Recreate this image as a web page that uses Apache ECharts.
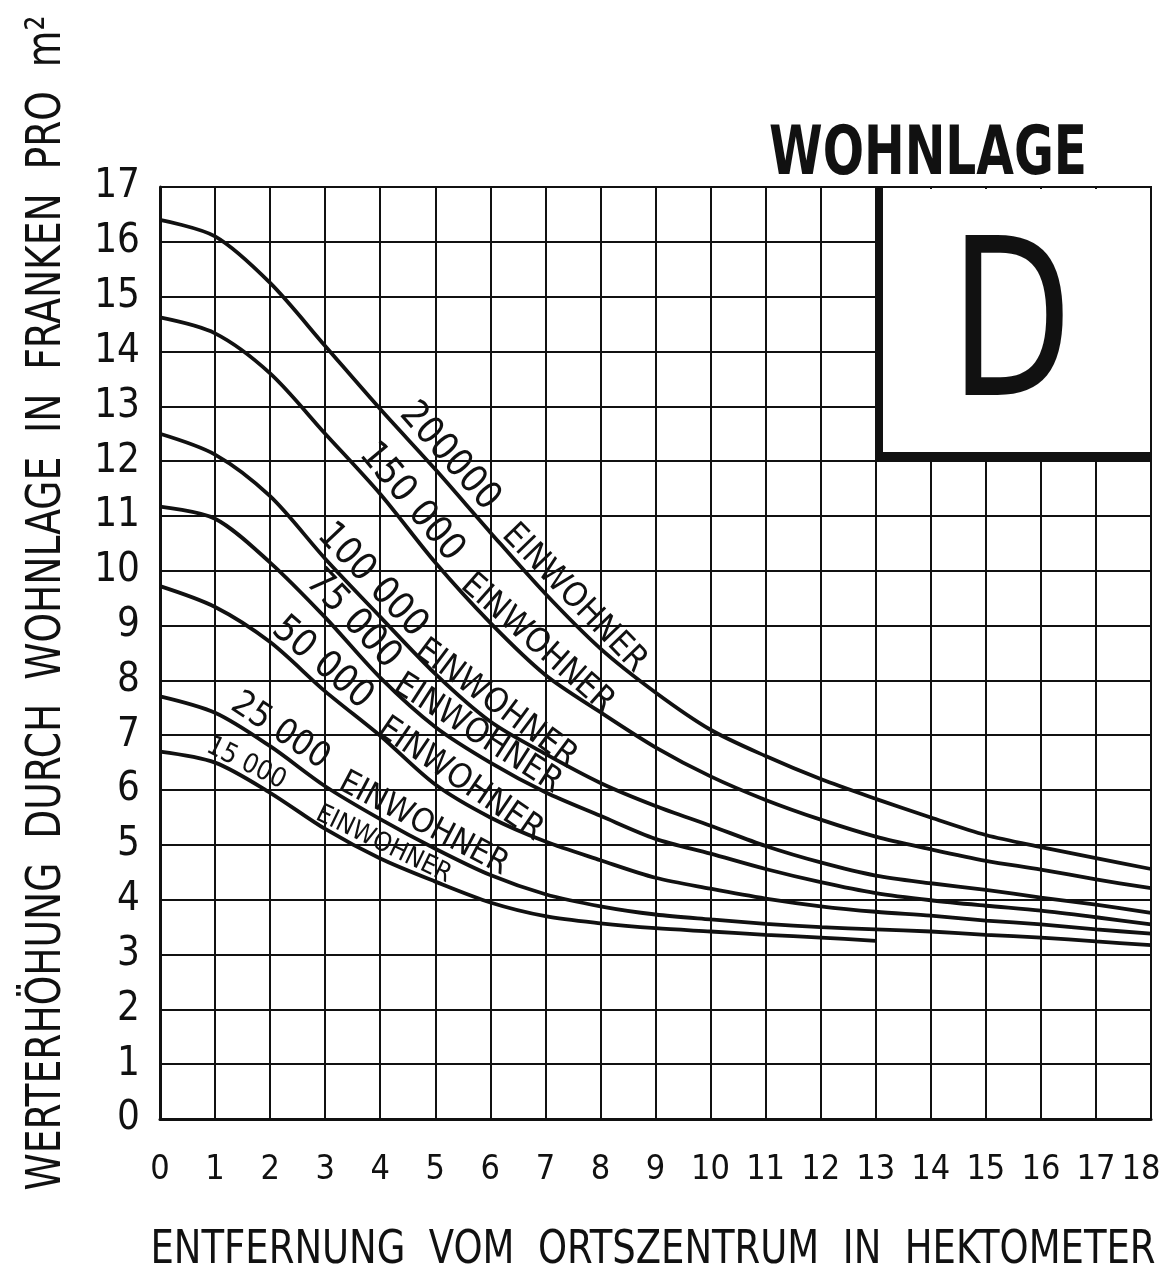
<!DOCTYPE html>
<html>
<head>
<meta charset="utf-8">
<script src="https://cdn.jsdelivr.net/npm/echarts@6/dist/echarts.min.js"></script>
<style>
  html, body { margin: 0; padding: 0; background: #fff; }
  #chart { width: 1165px; height: 1277px; }
</style>
</head>
<body>
<div id="chart"></div>
<script>
// Wohnlage D - Werterhoehung je m2 nach Entfernung vom Ortszentrum

const distance = [0, 1, 2, 3, 4, 5, 6, 7, 8, 9, 10, 11, 12, 13, 14, 15, 16, 17, 18];
const populations = ["200000", "150 000", "100 000", "75 000", "50 000", "25 000", "15 000"];

const value200000 = [16.4, 16.1, 15.25, 14.1, 12.95, 11.85, 10.7, 9.58, 8.58, 7.78, 7.1, 6.62, 6.2, 5.84, 5.5, 5.18, 4.96, 4.76, 4.56];
const value150000 = [14.62, 14.33, 13.6, 12.5, 11.4, 10.15, 9.05, 8.1, 7.42, 6.78, 6.25, 5.82, 5.46, 5.15, 4.92, 4.71, 4.55, 4.37, 4.21];
const value100000 = [12.5, 12.12, 11.36, 10.22, 9.16, 8.12, 7.25, 6.66, 6.13, 5.71, 5.35, 4.98, 4.68, 4.44, 4.3, 4.18, 4.04, 3.91, 3.76];
const value75000 = [11.17, 10.95, 10.15, 9.15, 8.05, 7.15, 6.5, 5.96, 5.53, 5.11, 4.84, 4.56, 4.32, 4.12, 3.99, 3.89, 3.8, 3.68, 3.55];
const value50000 = [9.72, 9.34, 8.7, 7.8, 6.99, 6.1, 5.5, 5.06, 4.72, 4.4, 4.2, 4.02, 3.88, 3.78, 3.71, 3.62, 3.55, 3.46, 3.38];
const value25000 = [7.71, 7.41, 6.8, 6.07, 5.47, 4.93, 4.45, 4.1, 3.88, 3.73, 3.64, 3.56, 3.5, 3.46, 3.42, 3.36, 3.31, 3.24, 3.17];
const value15000 = [6.7, 6.5, 5.95, 5.29, 4.75, 4.33, 3.95, 3.7, 3.57, 3.48, 3.42, 3.36, 3.31, 3.25];

const allValues = [value200000, value150000, value100000, value75000, value50000, value25000, value15000];

const INK = "#111";
const NUM_FONT = '"DejaVu Sans Condensed", "DejaVu Sans", sans-serif';
const TITLE_FONT = '"Liberation Sans Narrow", "DejaVu Sans Condensed", sans-serif';
const X_MAX = distance[distance.length - 1];

const chart = echarts.init(document.getElementById("chart"), null, { renderer: "canvas" });

chart.setOption({
  animation: false,
  backgroundColor: "#fff",
  grid: { left: 160, right: 14, top: 187, bottom: 158, containLabel: false, outerBoundsMode: "none" },
  xAxis: {
    type: "value", min: 0, max: X_MAX, interval: 1,
    axisLine: { show: true, lineStyle: { color: INK, width: 3 } },
    axisTick: { show: false },
    axisLabel: {
      color: INK, fontFamily: NUM_FONT, fontSize: 34, margin: 34,
      showMinLabel: true, showMaxLabel: true, hideOverlap: false,
      // last label pulled a little to the left so it stays on the page
      formatter: v => (v === X_MAX ? `{last|${v}}` : `${v}`),
      rich: { last: { color: INK, fontFamily: NUM_FONT, fontSize: 34, padding: [0, 20, 0, 0] } }
    },
    splitLine: { show: true, lineStyle: { color: INK, width: 2 } }
  },
  yAxis: {
    type: "value", min: 0, max: 17, interval: 1,
    axisLine: { show: true, lineStyle: { color: INK, width: 3 } },
    axisTick: { show: false },
    axisLabel: { color: INK, fontFamily: NUM_FONT, fontSize: 40, margin: 20 },
    splitLine: { show: true, lineStyle: { color: INK, width: 2 } }
  },
  series: allValues.map((vals, k) => ({
    name: populations[k],
    type: "line",
    data: vals.map((v, i) => [distance[i], v]),
    smooth: 0.3,
    showSymbol: false,
    symbol: "none",
    lineStyle: { color: INK, width: 3.8 },
    z: 5
  }))
});

// curve labels sit just above their curve, turned along the local slope
const labelLayout = [
  [{ text: populations[0], x: 5.0, size: 38, off: 19 }, { text: "EINWOHNER", x: 7.3, size: 34, off: 17 }],
  [{ text: populations[1], x: 4.3, size: 38, off: 19 }, { text: "EINWOHNER", x: 6.65, size: 34, off: 17 }],
  [{ text: populations[2], x: 3.6, size: 38, off: 19 }, { text: "EINWOHNER", x: 5.92, size: 34, off: 17 }],
  [{ text: populations[3], x: 3.25, size: 38, off: 19 }, { text: "EINWOHNER", x: 5.6, size: 34, off: 17 }],
  [{ text: populations[4], x: 2.72, size: 38, off: 19 }, { text: "EINWOHNER", x: 5.28, size: 34, off: 17 }],
  [{ text: populations[5], x: 2.0, size: 35, off: 18 }, { text: "EINWOHNER", x: 4.65, size: 33, off: 16 }],
  [{ text: populations[6], x: 1.45, size: 27, off: 14 }, { text: "EINWOHNER", x: 3.95, size: 26, off: 14 }]
];

function yAt(vals, x) {
  const i = Math.max(0, Math.min(Math.floor(x), vals.length - 2));
  const t = x - i;
  return vals[i] + (vals[i + 1] - vals[i]) * t;
}

// squeeze a title to the width it has in the original lettering
const measureCtx = document.createElement("canvas").getContext("2d");
function fitScale(text, font, target) {
  measureCtx.font = font;
  return target / measureCtx.measureText(text).width;
}

const graphics = [];
labelLayout.forEach((parts, k) => {
  const vals = allValues[k];
  parts.forEach(p => {
    const a1 = chart.convertToPixel({ gridIndex: 0 }, [p.x - 0.7, yAt(vals, p.x - 0.7)]);
    const a2 = chart.convertToPixel({ gridIndex: 0 }, [p.x + 0.7, yAt(vals, p.x + 0.7)]);
    const c = chart.convertToPixel({ gridIndex: 0 }, [p.x, yAt(vals, p.x)]);
    const ang = Math.atan2(a2[1] - a1[1], a2[0] - a1[0]);
    graphics.push({
      type: "text",
      x: c[0] + p.off * Math.sin(ang),
      y: c[1] - p.off * Math.cos(ang),
      rotation: -ang,
      z: 30,
      style: {
        text: p.text, fill: INK, align: "center", verticalAlign: "middle",
        font: `${p.size}px ${NUM_FONT}`
      }
    });
  });
});

const titleFont = `bold 68px ${TITLE_FONT}`;
const yNameText = "WERTERHÖHUNG  DURCH  WOHNLAGE  IN  FRANKEN  PRO  m²";
const yNameFont = `48px ${TITLE_FONT}`;
const xNameText = "ENTFERNUNG  VOM  ORTSZENTRUM  IN  HEKTOMETER";
const xNameFont = `46px ${TITLE_FONT}`;
const dFont = `220px ${NUM_FONT}`;

// "D" box in the upper right corner of the grid
graphics.push(
  { type: "rect", z: 20, shape: { x: 880, y: 189, width: 270, height: 268 }, style: { fill: "#fff" } },
  { type: "line", z: 21, shape: { x1: 879, y1: 186, x2: 879, y2: 460 }, style: { stroke: INK, lineWidth: 8 } },
  { type: "line", z: 21, shape: { x1: 875, y1: 456, x2: 1152, y2: 456 }, style: { stroke: INK, lineWidth: 8 } },
  { type: "line", z: 21, shape: { x1: 1151, y1: 186, x2: 1151, y2: 460 }, style: { stroke: INK, lineWidth: 2 } },
  {
    type: "text", z: 22, x: 1011, y: 338, scaleX: fitScale("D", dFont, 122),
    style: { text: "D", fill: INK, align: "center", verticalAlign: "middle", font: dFont }
  },
  {
    type: "text", z: 22, x: 928, y: 156, scaleX: fitScale("WOHNLAGE", titleFont, 318),
    style: { text: "WOHNLAGE", fill: INK, align: "center", verticalAlign: "middle", font: titleFont }
  },
  {
    type: "text", z: 22, x: 48, y: 603, rotation: Math.PI / 2, scaleX: fitScale(yNameText, yNameFont, 1175),
    style: { text: yNameText, fill: INK, align: "center", verticalAlign: "middle", font: yNameFont }
  },
  {
    type: "text", z: 22, x: 653, y: 1251, scaleX: fitScale(xNameText, xNameFont, 1005),
    style: { text: xNameText, fill: INK, align: "center", verticalAlign: "middle", font: xNameFont }
  }
);

chart.setOption({ graphic: graphics });
</script>
</body>
</html>
